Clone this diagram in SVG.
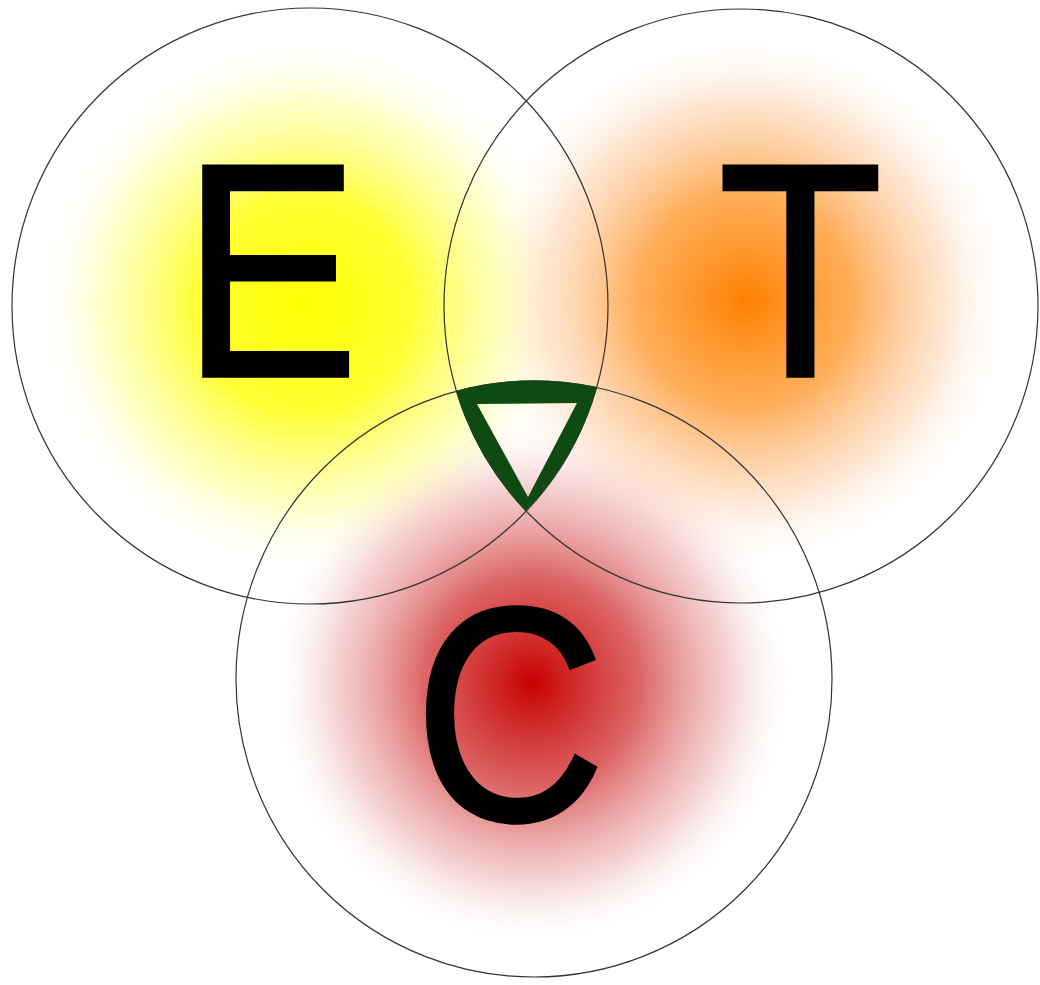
<svg xmlns="http://www.w3.org/2000/svg" width="1040" height="985" viewBox="0 0 1040 985">
<defs>
<radialGradient id="gY" cx="0.5" cy="0.5" r="0.5">
<stop offset="0" stop-color="#ffff00" stop-opacity="1"/>
<stop offset="0.4" stop-color="#ffff10" stop-opacity="0.85"/>
<stop offset="0.75" stop-color="#ffff60" stop-opacity="0.35"/>
<stop offset="1" stop-color="#ffffff" stop-opacity="0"/>
</radialGradient>
<radialGradient id="gO" cx="0.5" cy="0.5" r="0.5">
<stop offset="0" stop-color="#ff8000" stop-opacity="1"/>
<stop offset="0.4" stop-color="#ff9a30" stop-opacity="0.8"/>
<stop offset="0.75" stop-color="#ffb070" stop-opacity="0.3"/>
<stop offset="1" stop-color="#ffffff" stop-opacity="0"/>
</radialGradient>
<radialGradient id="gR" cx="0.5" cy="0.5" r="0.5">
<stop offset="0" stop-color="#c80000" stop-opacity="1"/>
<stop offset="0.4" stop-color="#d03030" stop-opacity="0.75"/>
<stop offset="0.75" stop-color="#e07070" stop-opacity="0.3"/>
<stop offset="1" stop-color="#ffffff" stop-opacity="0"/>
</radialGradient>
<style>
.glow{mix-blend-mode:multiply;}
.ring{fill:none;stroke:#333;stroke-width:1.2;}
.lbl{font-family:"Liberation Sans",Arial,sans-serif;font-size:305px;fill:#000;stroke:#000;stroke-width:3.5;stroke-linejoin:miter;}
</style>
</defs>
<rect width="1040" height="985" fill="#fff"/>
<g id="glows">
<circle class="glow" cx="305" cy="305" r="270" fill="url(#gY)"/>
<circle class="glow" cx="745" cy="300" r="270" fill="url(#gO)"/>
<circle class="glow" cx="532" cy="683" r="265" fill="url(#gR)"/>
</g>
<g id="node-E">
<circle class="ring" cx="310" cy="306" r="298"/>
</g>
<g id="node-T">
<circle class="ring" cx="741" cy="306" r="297"/>
</g>
<g id="node-C">
<circle class="ring" cx="534" cy="679" r="298"/>
</g>
<g id="center">
<path d="M456,391 A298,298 0 0 1 597,387 A298,298 0 0 1 526,511 A297,297 0 0 1 456,391 Z M477,404 L528,497 L577,403 Z" fill="#0e4a12" fill-rule="evenodd"/>
</g>
<g id="labels">
<text class="lbl" transform="translate(182,376) scale(0.87,1)">E</text>
<text class="lbl" transform="translate(718,376) scale(0.885,1)">T</text>
<text class="lbl" transform="translate(414,820) scale(0.87,1)">C</text>
</g>
</svg>
